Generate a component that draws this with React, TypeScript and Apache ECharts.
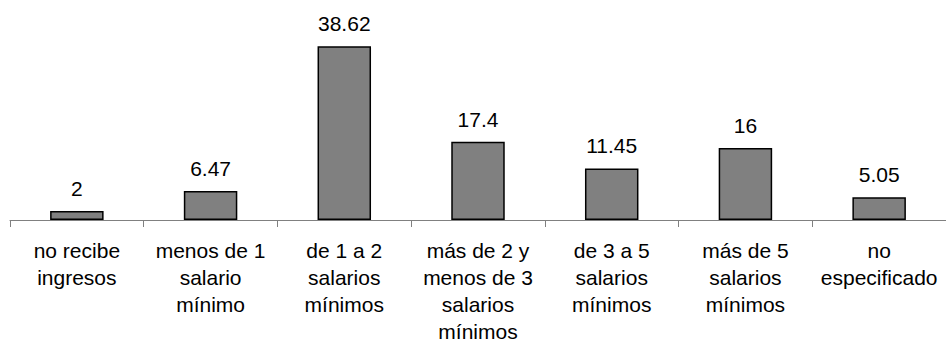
import React, { useEffect, useRef } from "react";
import * as echarts from "echarts";

const categories = [
  "no recibe\ningresos",
  "menos de 1\nsalario\nmínimo",
  "de 1 a 2\nsalarios\nmínimos",
  "más de 2 y\nmenos de 3\nsalarios\nmínimos",
  "de 3 a 5\nsalarios\nmínimos",
  "más de 5\nsalarios\nmínimos",
  "no\nespecificado",
];
const values = [2, 6.47, 38.62, 17.4, 11.45, 16, 5.05];

export default function App() {
  const ref = useRef<HTMLDivElement>(null);
  useEffect(() => {
    if (!ref.current) return;
    const chart = echarts.init(ref.current, undefined, { renderer: "svg" });
    chart.setOption({
      animation: false,
      grid: { left: 10, top: 40, width: 945, height: 184 },
      xAxis: {
        type: "category",
        data: categories,
        axisLine: { lineStyle: { color: "#808080", width: 1 } },
        axisTick: { show: true, length: 7, lineStyle: { color: "#808080" } },
        axisLabel: {
          interval: 0,
          color: "#000",
          fontFamily: "Liberation Sans, Arial, sans-serif",
          fontSize: 21,
          lineHeight: 27,
          margin: 17,
        },
      },
      yAxis: {
        type: "value",
        min: 0,
        max: 40,
        show: false,
        splitLine: { show: false },
      },
      series: [
        {
          type: "bar",
          data: values,
          barWidth: "40%",
          itemStyle: { color: "#808080", borderColor: "#000", borderWidth: 1.5 },
          label: {
            show: true,
            position: "top",
            distance: 12,
            color: "#000",
            fontFamily: "Liberation Sans, Arial, sans-serif",
            fontSize: 21,
          },
        },
      ],
    });
    return () => chart.dispose();
  }, []);
  return <div ref={ref} style={{ width: 946, height: 345, position: "absolute", left: 0, top: 0 }} />;
}
